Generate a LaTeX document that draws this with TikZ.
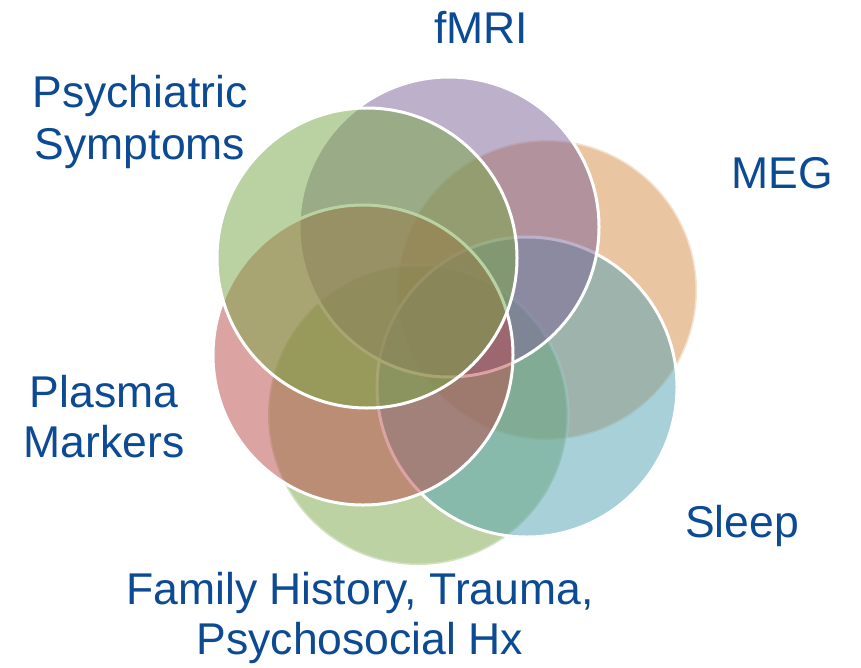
\documentclass[tikz,border=0pt]{standalone}
\usepackage{fontspec}
\setmainfont{Liberation Sans}
\definecolor{txtblue}{RGB}{12,74,148}
\definecolor{cMEG}{RGB}{213,141,71}
\definecolor{cFMRI}{RGB}{125,99,153}
\definecolor{cSLEEP}{RGB}{83,163,181}
\definecolor{cFAM}{RGB}{123,167,71}
\definecolor{cPLASMA}{RGB}{187,73,73}
\definecolor{cPSYCH}{RGB}{119,167,69}
\begin{document}
\begin{tikzpicture}[x=1pt,y=-1pt,
  ring/.style={draw=white, line width=3pt, fill opacity=0.5},
  lbl/.style={text=txtblue, inner sep=0pt, align=center},
  lblA/.style={lbl, font=\fontsize{44.5}{50}\selectfont},
  lblB/.style={lbl, font=\fontsize{44.5}{52}\selectfont}]
\useasboundingbox (0,0) rectangle (861,667);
\fill[white] (0,0) rectangle (861,667);
% circles, bottom to top
\draw[ring, fill=cMEG, draw opacity=0.5] (547,290) circle[radius=150];
\draw[ring, fill=cFAM, draw opacity=0.35] (418,415) circle[radius=150];
\draw[ring, fill=cSLEEP]  (527,387) circle[radius=150];
\draw[ring, fill=cFMRI]   (449,227) circle[radius=150];
\draw[ring, fill=cPLASMA] (363,355) circle[radius=150];
\draw[ring, fill=cPSYCH]  (367,258) circle[radius=150];
% labels
\node[lblA, anchor=base] (fmri) at (481,43) {fMRI};
\node[lblA, anchor=base] (meg) at (782,188) {MEG};
\node[lblA, anchor=base] (sleep) at (742,537) {Sleep};
\node[lblB, anchor=north] (psych) at (140,75) {Psychiatric\\Symptoms};
\node[lblA, anchor=north] (plasma) at (104,375) {Plasma\\Markers};
\node[lblA, anchor=north] (family) at (360,572) {Family History, Trauma,\\Psychosocial Hx};
\end{tikzpicture}
\end{document}
